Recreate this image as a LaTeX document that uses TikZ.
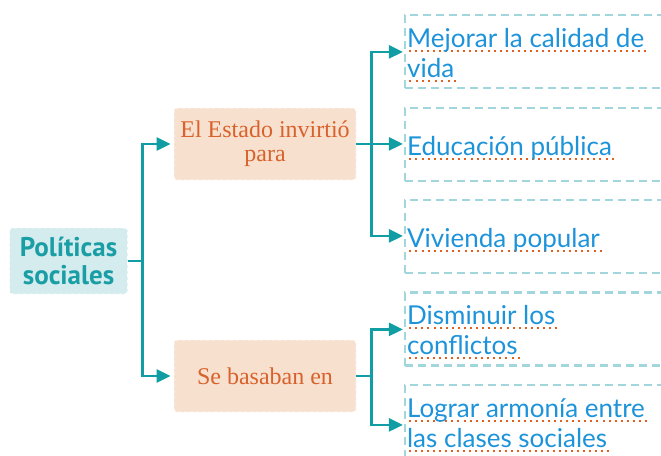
\documentclass[tikz,border=0pt]{standalone}
\usepackage{fontspec}
\setmainfont{Liberation Serif}
\newfontfamily\polfont{PT Sans}
\newfontfamily\handfont{Lato}
\usetikzlibrary{arrows.meta}
\definecolor{tealline}{RGB}{16,158,164}
\definecolor{polfill}{RGB}{212,236,237}
\definecolor{poltext}{RGB}{26,158,166}
\definecolor{orfill}{RGB}{248,224,207}
\definecolor{ortext}{RGB}{216,98,43}
\definecolor{dashcyan}{RGB}{160,214,220}
\definecolor{handblue}{RGB}{29,147,217}
\definecolor{dotorange}{RGB}{224,97,31}
\newcommand\dotul[1]{\leavevmode\setbox0\hbox{#1}%
  \rlap{\color{dotorange}\raisebox{-4.5pt}{\hbox to\dimexpr\wd0+4pt\relax{\xleaders\hbox to 6pt{\hss\rule{2pt}{2pt}\hss}\hfill}}}\box0}
\begin{document}
\begin{tikzpicture}[x=1pt,y=-1pt,
  polbox/.style={rectangle, rounded corners=3pt, fill=polfill, draw=white, dash pattern=on 3pt off 3pt, line width=0.8pt,
    minimum width=118pt, minimum height=66pt, align=center, text=poltext, font=\polfont\bfseries\fontsize{27}{28}\selectfont},
  orbox/.style={rectangle, rounded corners=3pt, fill=orfill, draw=white, dash pattern=on 3pt off 3pt, line width=0.8pt,
    minimum width=182pt, minimum height=72pt, align=center, text=ortext, font=\fontsize{24}{24}\selectfont},
  rbox/.style={rectangle, draw=dashcyan, line width=2.2pt, dash pattern=on 8pt off 5pt, minimum width=295pt, minimum height=73pt},
  rtext/.style={anchor=west, align=left, inner sep=0pt, text=handblue, font=\handfont\fontsize{26}{30}\selectfont},
  conn/.style={draw=tealline, line width=2.6pt},
  arr/.style={conn, -{Triangle[length=14pt,width=13pt]}, shorten >=1pt}]
\useasboundingbox (0,0) rectangle (661,455);
\clip (0,0) rectangle (661,455);
% boxes
\node[polbox] (pol) at (68.5,261) {Políticas\\sociales};
\node[orbox] (inv) at (265,144) {El Estado invirtió\\para};
\node[orbox] (bas) at (265,376) {Se basaban en};
\node[rbox] (r1) at (552.5,51.5) {};
\node[rbox] (r2) at (552.5,144.5) {};
\node[rbox] (r3) at (552.5,236.5) {};
\node[rbox] (r4) at (552.5,329) {};
\node[rbox] (r5) at (552.5,421.5) {};
% texts
\node[rtext] (t1) at ([xshift=3pt,yshift=-3.5pt]r1.west) {\dotul{Mejorar la calidad de}\\\dotul{vida}};
\node[rtext] (t2) at ([xshift=3pt,yshift=-3.5pt]r2.west) {\dotul{Educación pública}};
\node[rtext] (t3) at ([xshift=3pt,yshift=-3.5pt]r3.west) {\dotul{Vivienda popular}};
\node[rtext] (t4) at ([xshift=3pt,yshift=-3.5pt]r4.west) {\dotul{Disminuir los}\\\dotul{conflictos}};
\node[rtext] (t5) at ([xshift=3pt,yshift=-3.5pt]r5.west) {\dotul{Lograr armonía entre}\\\dotul{las clases sociales}};
% connectors
\draw[conn] (pol.east) -- ++(14.5,0) coordinate (j1);
\draw[arr] (j1) |- ([xshift=-2pt]inv.west);
\draw[arr] (j1) |- ([xshift=-2pt]bas.west);
\draw[conn] (inv.east) -- ++(15,0) coordinate (j2);
\draw[arr] (j2) |- ([yshift=-38pt]r1.north west);
\draw[arr] (j2) |- ([yshift=-37pt]r2.north west);
\draw[arr] (j2) |- ([yshift=-37pt]r3.north west);
\draw[conn] (bas.east) -- ++(15,0) coordinate (j3);
\draw[arr] (j3) |- ([yshift=-38pt]r4.north west);
\draw[arr] (j3) |- ([yshift=-41pt]r5.north west);
\end{tikzpicture}
\end{document}
